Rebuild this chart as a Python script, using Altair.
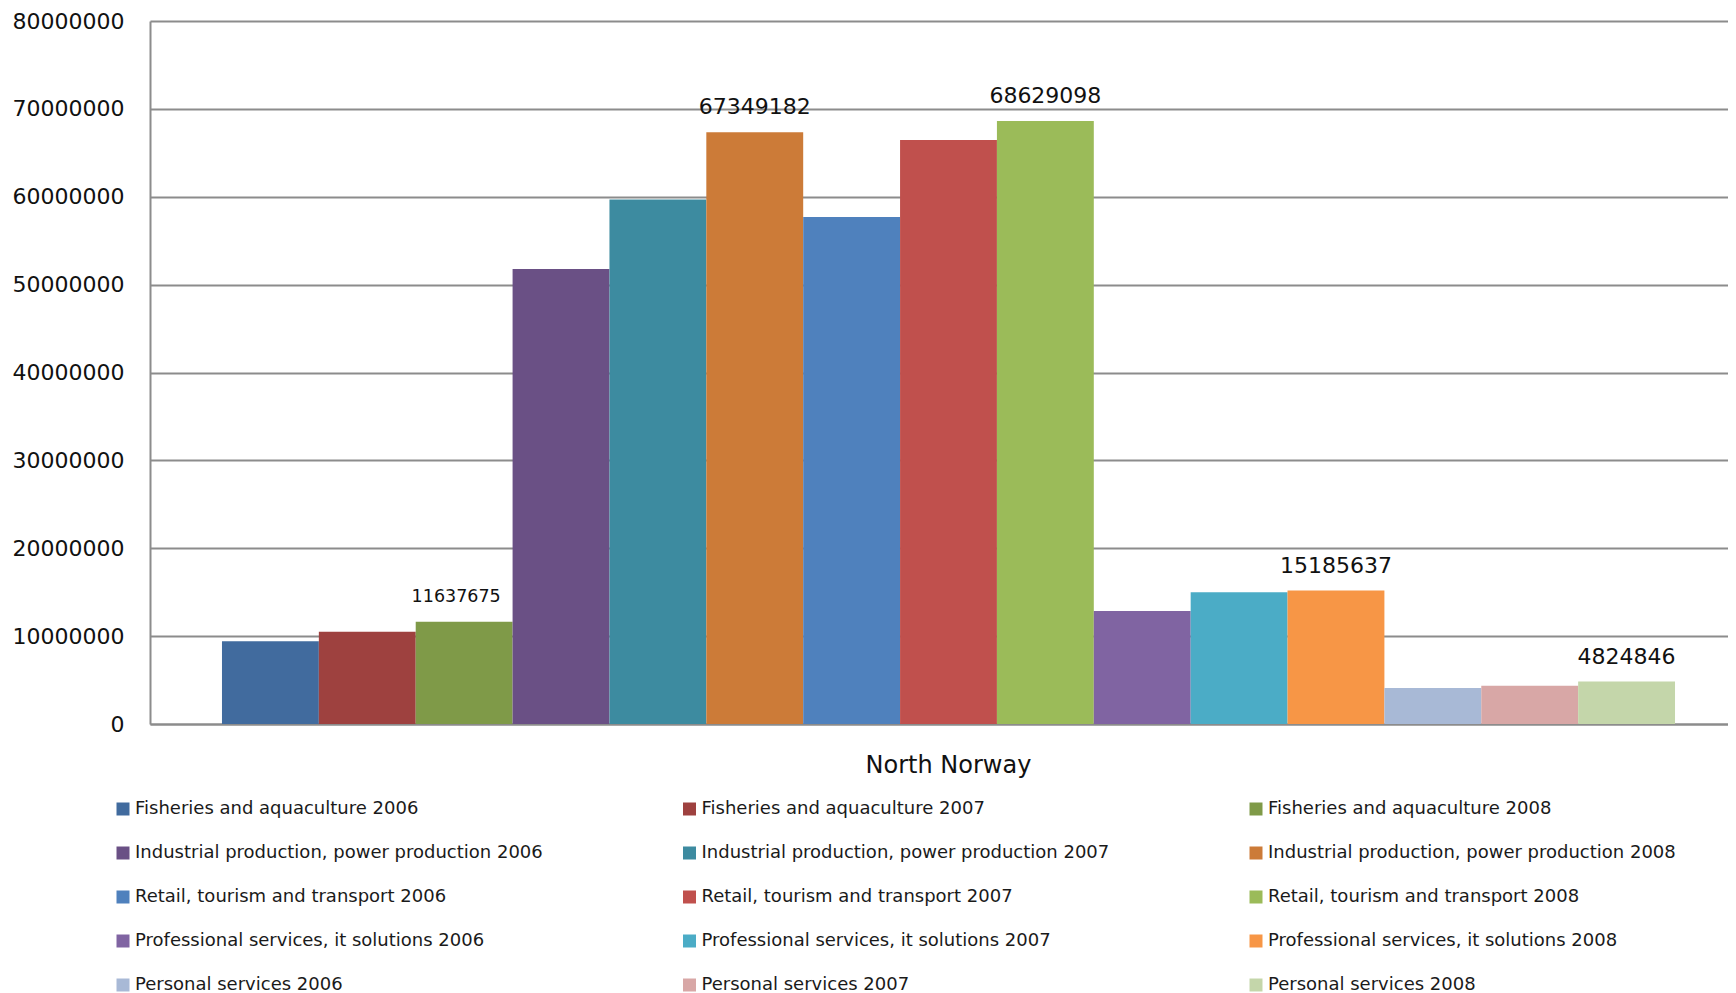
import altair as alt
import pandas as pd

region = "North Norway"
sectors = [
    "Fisheries and aquaculture",
    "Industrial production, power production",
    "Retail, tourism and transport",
    "Professional services, it solutions",
    "Personal services",
]
years = ["2006", "2007", "2008"]
series = [f"{s} {y}" for s in sectors for y in years]
values = [
    9420000, 10500000, 11637675,
    51780000, 59700000, 67349182,
    57700000, 66460000, 68629098,
    12860000, 15000000, 15185637,
    4100000, 4360000, 4824846,
]
colors = [
    "#416B9E", "#9E413F", "#7F9A48",
    "#6A5085", "#3D8BA0", "#CC7B38",
    "#4F81BD", "#C0504D", "#9BBB59",
    "#8064A2", "#4BACC6", "#F79646",
    "#A8B9D6", "#D8A7A6", "#C4D6AA",
]
y_ticks = [0, 10000000, 20000000, 30000000, 40000000, 50000000, 60000000, 70000000, 80000000]

df = pd.DataFrame({
    "region": [region] * len(series),
    "series": series,
    "value": values,
    "year": [y for s in sectors for y in years],
})

# legend fills column by column, so order the colour domain by year
# to make entries read row by row as in the reference
legend_order = [i for yi in range(len(years)) for i in range(yi, len(series), len(years))]
legend_domain = [series[i] for i in legend_order]
legend_range = [colors[i] for i in legend_order]

GRID = "#8c8c8c"
FONT = "DejaVu Sans"

base = alt.Chart(df).encode(
    x=alt.X(
        "region:N",
        scale=alt.Scale(paddingInner=0, paddingOuter=0.043, align=0.576),
        axis=alt.Axis(
            title=None, labelAngle=0, labelFontSize=24, labelFont=FONT,
            labelColor="#111111", labelPadding=29, ticks=False,
            domainColor=GRID, domainWidth=2, grid=False,
        ),
    ),
    xOffset=alt.XOffset("series:N", sort=series,
                        scale=alt.Scale(paddingInner=0, paddingOuter=0)),
    y=alt.Y(
        "value:Q",
        scale=alt.Scale(domain=[0, 80000000], nice=False),
        axis=alt.Axis(
            title=None, values=y_ticks, format="d", labelFont=FONT,
            labelFontSize=22, labelColor="#111111", labelPadding=26,
            ticks=False, domainColor=GRID, domainWidth=2,
            gridColor=GRID, gridWidth=2,
        ),
    ),
)

bars = base.mark_bar(strokeWidth=0).encode(
    color=alt.Color(
        "series:N",
        scale=alt.Scale(domain=legend_domain, range=legend_range),
        legend=alt.Legend(
            title=None, orient="none", legendX=-36, legendY=779,
            columns=3, symbolType="square", symbolSize=169,
            symbolStrokeWidth=0, labelFont=FONT, labelFontSize=18,
            labelColor="#1a1a1a", labelLimit=600, columnPadding=137.5,
            rowPadding=26, labelOffset=3, padding=0,
        ),
    )
)

text_small = base.mark_text(
    font=FONT, fontSize=17.5, dy=-20, dx=-8, baseline="alphabetic", color="#111111"
).encode(text=alt.Text("value:Q", format="d")).transform_filter(
    alt.datum.series == "Fisheries and aquaculture 2008"
)

text_big = base.mark_text(
    font=FONT, fontSize=22, dy=-18, baseline="alphabetic", color="#111111"
).encode(text=alt.Text("value:Q", format="d")).transform_filter(
    (alt.datum.year == "2008") & (alt.datum.series != "Fisheries and aquaculture 2008")
)

chart = alt.layer(bars, text_small, text_big).properties(
    width=1578,
    height=703,
    autosize=alt.AutoSizeParams(type="none"),
    padding={"left": 142, "top": 13, "right": 0, "bottom": 269},
    background="white",
).configure_view(stroke=None)

chart.save("out.html", embed_options={"renderer": "svg", "actions": False})
